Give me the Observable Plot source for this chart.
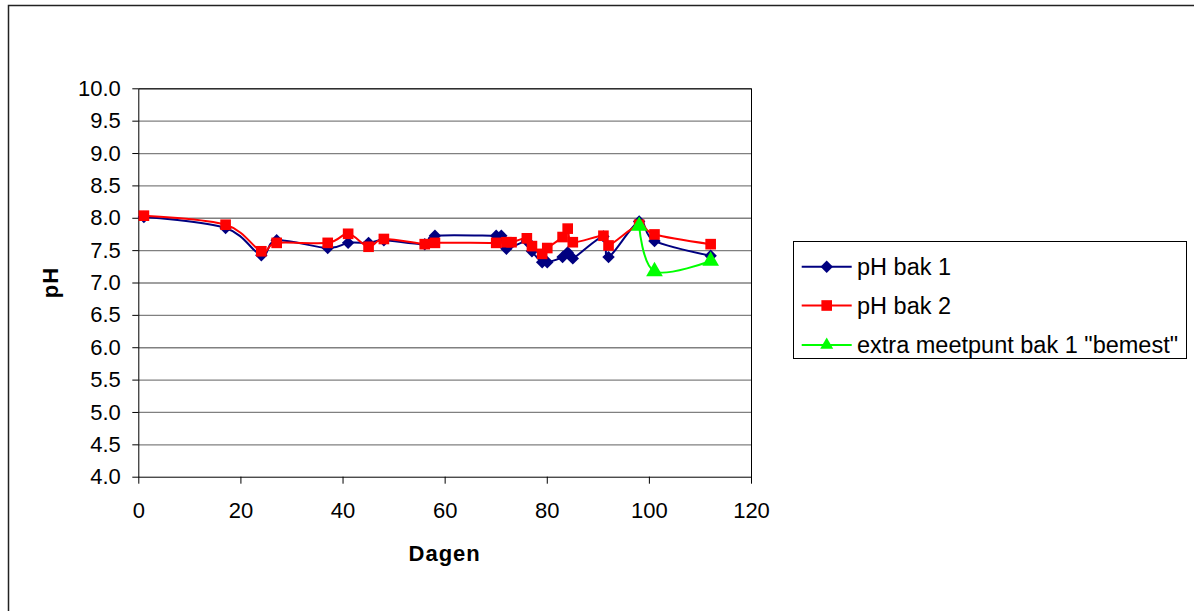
<!DOCTYPE html>
<html>
<head>
<meta charset="utf-8">
<script src="https://cdn.jsdelivr.net/npm/d3@7"></script>
<script src="https://cdn.jsdelivr.net/npm/@observablehq/plot@0.6"></script>
<style>
  html, body { margin: 0; padding: 0; background: #fff; }
  #chart { position: relative; width: 1194px; height: 611px; overflow: hidden; }
</style>
</head>
<body>
<div id="chart"></div>
<script>
// ---- data ----
const seriesNames = ["pH bak 1", "pH bak 2", "extra meetpunt bak 1 \"bemest\""];
const days1 = [1, 17, 24, 27, 37, 41, 45, 48, 56, 58, 70, 71, 72, 76, 77, 79, 80, 83, 84, 85, 91, 92, 98, 101, 112];
const ph1   = [8.02, 7.85, 7.43, 7.66, 7.54, 7.62, 7.62, 7.66, 7.60, 7.73, 7.73, 7.73, 7.53, 7.65, 7.49, 7.32, 7.32, 7.40, 7.47, 7.38, 7.72, 7.40, 7.95, 7.65, 7.42];
const days2 = [1, 17, 24, 27, 37, 41, 45, 48, 56, 58, 70, 72, 73, 76, 77, 79, 80, 83, 84, 85, 91, 92, 98, 101, 112];
const ph2   = [8.04, 7.90, 7.49, 7.62, 7.62, 7.76, 7.56, 7.68, 7.60, 7.62, 7.62, 7.63, 7.63, 7.69, 7.57, 7.45, 7.54, 7.71, 7.84, 7.63, 7.73, 7.58, 7.90, 7.75, 7.60];
const days3 = [98, 101, 112];
const ph3   = [7.88, 7.18, 7.34];
const xTicks = [0, 20, 40, 60, 80, 100, 120];
const yTicks = [4.0, 4.5, 5.0, 5.5, 6.0, 6.5, 7.0, 7.5, 8.0, 8.5, 9.0, 9.5, 10.0];
const xTitle = "Dagen";
const yTitle = "pH";

const colors = ["#000080", "#ff0000", "#00ff00"];
const symbols = ["diamond2", "square", "triangle"];
const radii = [5.6, 6.0, 6.2];

const toRows = (days, ph) => days.map((d, i) => ({day: d, ph: ph[i]}));
const s1 = toRows(days1, ph1), s2 = toRows(days2, ph2), s3 = toRows(days3, ph3);

const W = 1194, H = 611;
const mL = 138.3, mR = W - 751, mT = 88.3, mB = H - 476.7;

const svg = Plot.plot({
  width: W, height: H,
  marginLeft: mL, marginRight: mR, marginTop: mT, marginBottom: mB,
  style: {fontFamily: "Arial, 'Liberation Sans', sans-serif", fontSize: "22px", background: "#fff", color: "#000"},
  x: {domain: [0, 120]},
  y: {domain: [4, 10]},
  marks: [
    Plot.gridY(yTicks.filter(v => v > 4), {stroke: "#808080", strokeOpacity: 1, strokeWidth: 1.3}),
    Plot.frame({stroke: "#000", strokeWidth: 1}),
    Plot.axisY({ticks: yTicks, tickFormat: d => d.toFixed(1), tickSize: 6, tickPadding: 12, label: null, fontSize: 22}),
    Plot.axisX({ticks: xTicks, tickSize: 7, tickPadding: 18, label: null, fontSize: 22}),
    Plot.line(s1, {x: "day", y: "ph", stroke: colors[0], strokeWidth: 2, curve: "cardinal"}),
    Plot.dot(s1, {x: "day", y: "ph", symbol: symbols[0], r: radii[0], fill: colors[0], stroke: "none"}),
    Plot.line(s2, {x: "day", y: "ph", stroke: colors[1], strokeWidth: 2, curve: "cardinal"}),
    Plot.dot(s2, {x: "day", y: "ph", symbol: symbols[1], r: radii[1], fill: colors[1], stroke: "none"}),
    Plot.line(s3, {x: "day", y: "ph", stroke: colors[2], strokeWidth: 2, curve: "cardinal"}),
    Plot.dot(s3, {x: "day", y: "ph", symbol: symbols[2], r: radii[2], fill: colors[2], stroke: "none"})
  ]
});

const g = d3.select(svg);
// outer chart border
g.append("rect").attr("x", 8.5).attr("y", 5.5).attr("width", 1300).attr("height", 700)
  .attr("fill", "none").attr("stroke", "#222").attr("stroke-width", 1.5);

// axis titles
g.append("text").attr("x", (mL + (W - mR)) / 2).attr("y", 561)
  .attr("text-anchor", "middle").attr("font-weight", "bold").attr("font-size", 22)
  .attr("letter-spacing", "1px").attr("fill", "#000").text(xTitle);
g.append("text").attr("transform", `translate(${58},${(mT + (H - mB)) / 2}) rotate(-90)`)
  .attr("text-anchor", "middle").attr("font-weight", "bold").attr("font-size", 22)
  .attr("letter-spacing", "1px").attr("fill", "#000").text(yTitle);

// legend
const lg = g.append("g").attr("text-anchor", "start");
lg.append("rect").attr("x", 793.5).attr("y", 241.5).attr("width", 393).attr("height", 117)
  .attr("fill", "#fff").attr("stroke", "#000").attr("stroke-width", 1);
const rowY = [266.7, 305.5, 345];
const symMap = {diamond2: d3.symbolDiamond2, square: d3.symbolSquare, triangle: d3.symbolTriangle2};
seriesNames.forEach((name, i) => {
  const y = rowY[i];
  lg.append("line").attr("x1", 801.7).attr("x2", 851.7).attr("y1", y).attr("y2", y)
    .attr("stroke", colors[i]).attr("stroke-width", 2);
  lg.append("path").attr("transform", `translate(826.7,${y})`)
    .attr("d", d3.symbol(symMap[symbols[i]], Math.PI * radii[i] * radii[i])())
    .attr("fill", colors[i]);
  lg.append("text").attr("x", 857).attr("y", y).attr("dy", "0.35em")
    .attr("text-anchor", "start")
    .attr("font-size", 23.5).attr("fill", "#000").text(name);
});

document.getElementById("chart").appendChild(svg);
</script>
</body>
</html>
